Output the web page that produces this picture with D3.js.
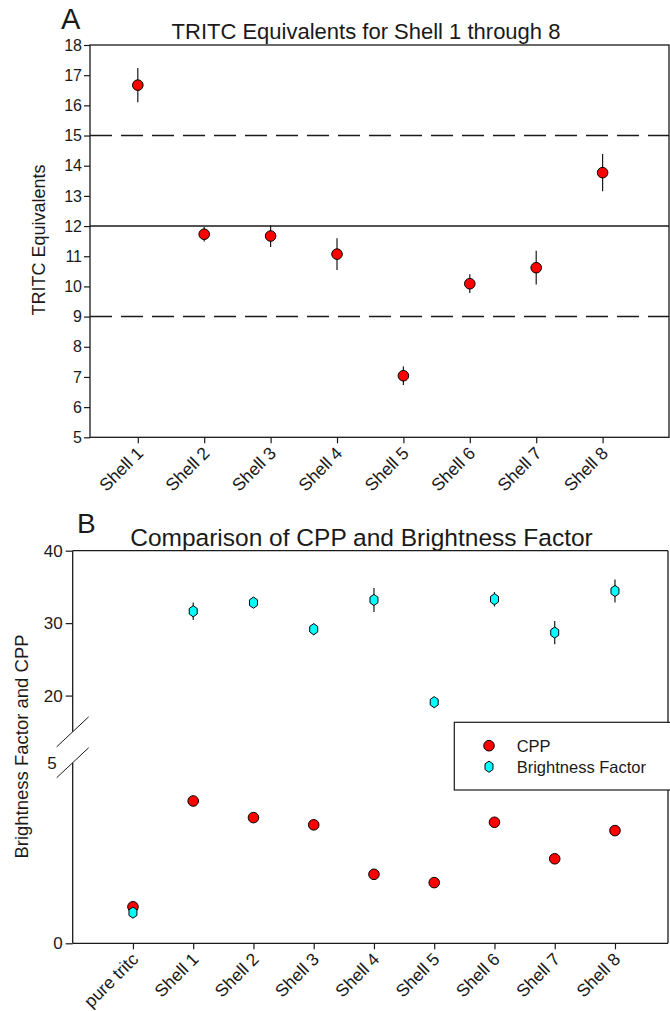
<!DOCTYPE html>
<html>
<head>
<meta charset="utf-8">
<script src="https://cdn.jsdelivr.net/npm/d3@7"></script>
<style>
  html, body { margin: 0; padding: 0; background: #fff; }
  svg { display: block; font-family: "Liberation Sans", Arial, sans-serif; }
</style>
</head>
<body>
<svg id="chart" width="670" height="1011"></svg>
<script>
// ---------------- DATA ----------------
const categoriesA = ["Shell 1", "Shell 2", "Shell 3", "Shell 4", "Shell 5", "Shell 6", "Shell 7", "Shell 8"];
const tritcMean   = [16.67, 11.73, 11.67, 11.07, 7.04, 10.09, 10.62, 13.77];
const tritcErr    = [0.57, 0.24, 0.36, 0.53, 0.31, 0.31, 0.56, 0.62];
const refLevels   = [15, 12, 9];
const yTicksA     = [5, 6, 7, 8, 9, 10, 11, 12, 13, 14, 15, 16, 17, 18];

const categoriesB   = ["pure tritc", "Shell 1", "Shell 2", "Shell 3", "Shell 4", "Shell 5", "Shell 6", "Shell 7", "Shell 8"];
const cppValues     = [1.01, 3.94, 3.48, 3.28, 1.91, 1.68, 3.35, 2.34, 3.12];
const brightValues  = [0.85, 31.64, 32.83, 29.16, 33.2, 19.09, 33.3, 28.7, 34.44];
const brightErr     = [0, 1.2, 0.6, 0.75, 1.65, 0.6, 1.0, 1.6, 1.6];
const yTicksBUpper  = [20, 30, 40];
const yTicksBLower  = [0, 5];
const legendLabels  = ["CPP", "Brightness Factor"];

// ---------------- HELPERS ----------------
const svg = d3.select("#chart");
const INK = "#1a1a1a";
const RED = "#ff0000";
const CYAN = "#00ffff";

function hexPath(cx, cy, rx, ry) {
  const p = d3.path();
  for (let i = 0; i < 6; i++) {
    const a = Math.PI / 2 + i * Math.PI / 3;
    const x = cx + rx * Math.cos(a), y = cy - ry * Math.sin(a);
    if (i === 0) p.moveTo(x, y); else p.lineTo(x, y);
  }
  p.closePath();
  return p.toString();
}

function styleAxis(g, fontSize) {
  g.selectAll(".domain").remove();
  g.selectAll(".tick line").attr("stroke", INK).attr("stroke-width", 1.2);
  g.selectAll(".tick text").attr("fill", INK).attr("font-size", fontSize)
    .attr("font-family", "'Liberation Sans', Arial, sans-serif");
}

// ================= PANEL A =================
const A = { left: 90, right: 669, top: 45, bottom: 437.3 };
const xA = d3.scaleLinear().domain([0.28, 9]).range([A.left, A.right]);
const yA = d3.scaleLinear().domain([5, 18]).range([A.bottom, A.top]);
const gA = svg.append("g");

// frame
gA.append("rect").attr("x", A.left).attr("y", A.top)
  .attr("width", A.right - A.left).attr("height", A.bottom - A.top)
  .attr("fill", "none").attr("stroke", INK).attr("stroke-width", 1.3);

// reference lines
gA.selectAll("line.ref").data(refLevels).join("line")
  .attr("class", "ref")
  .attr("x1", A.left).attr("x2", A.right)
  .attr("y1", d => yA(d)).attr("y2", d => yA(d))
  .attr("stroke", INK).attr("stroke-width", 1.5)
  .attr("stroke-dasharray", d => d === 12 ? null : "22,9");

// y axis
const yAxisA = gA.append("g").attr("transform", `translate(${A.left},0)`)
  .call(d3.axisLeft(yA).tickValues(yTicksA).tickSize(6).tickPadding(2).tickFormat(d3.format("d")));
styleAxis(yAxisA, 16);

// x axis
const xAxisA = gA.append("g").attr("transform", `translate(0,${A.bottom})`)
  .call(d3.axisBottom(xA).tickValues(d3.range(1, categoriesA.length + 1)).tickSize(6)
    .tickFormat((d) => categoriesA[d - 1]));
styleAxis(xAxisA, 17.5);
xAxisA.selectAll(".tick text")
  .attr("text-anchor", "end")
  .attr("dy", null).attr("y", 0)
  .attr("transform", "translate(6,17) rotate(-45)");

// error bars
gA.selectAll("line.err").data(tritcMean).join("line")
  .attr("class", "err")
  .attr("x1", (d, i) => xA(i + 1)).attr("x2", (d, i) => xA(i + 1))
  .attr("y1", (d, i) => yA(d + tritcErr[i])).attr("y2", (d, i) => yA(d - tritcErr[i]))
  .attr("stroke", INK).attr("stroke-width", 1.2);

// points
gA.selectAll("circle.pt").data(tritcMean).join("circle")
  .attr("class", "pt")
  .attr("cx", (d, i) => xA(i + 1)).attr("cy", d => yA(d))
  .attr("r", 5.3).attr("fill", RED).attr("stroke", "#000").attr("stroke-width", 1);

// titles
svg.append("text").attr("x", 61).attr("y", 29).attr("font-size", 29).attr("fill", INK).text("A");
svg.append("text").attr("x", 366).attr("y", 39).attr("text-anchor", "middle")
  .attr("font-size", 22).attr("fill", INK).text("TRITC Equivalents for Shell 1 through 8");
svg.append("text").attr("transform", "translate(45,240) rotate(-90)").attr("text-anchor", "middle")
  .attr("font-size", 18).attr("fill", INK).text("TRITC Equivalents");

// ================= PANEL B =================
const B = { left: 72.7, right: 668, top: 550.7, upperBottom: 731.8, lowerTop: 762.7, bottom: 943.3 };
const xB = d3.scaleLinear().domain([-1, 8.88]).range([B.left, B.right]);
const yBU = d3.scaleLinear().domain([15, 40]).range([B.upperBottom, B.top]);
const yBL = d3.scaleLinear().domain([0, 5]).range([B.bottom, B.lowerTop]);
const yB = v => (v <= 5 ? yBL(v) : yBU(v));
const gB = svg.append("g");

// frame pieces (broken vertical axes)
const frame = [
  [B.left, B.top, B.right, B.top],
  [B.left, B.bottom, B.right, B.bottom],
  [B.left, B.top, B.left, B.upperBottom],
  [B.left, B.lowerTop, B.left, B.bottom],
  [B.right, B.top, B.right, B.upperBottom],
  [B.right, B.lowerTop, B.right, B.bottom]
];
gB.selectAll("line.frame").data(frame).join("line").attr("class", "frame")
  .attr("x1", d => d[0]).attr("y1", d => d[1]).attr("x2", d => d[2]).attr("y2", d => d[3])
  .attr("stroke", INK).attr("stroke-width", 1.3);

// break slashes
const slashes = [];
[B.left, B.right].forEach(x => [B.upperBottom, B.lowerTop].forEach(y => slashes.push([x, y])));
gB.selectAll("line.slash").data(slashes).join("line").attr("class", "slash")
  .attr("x1", d => d[0] - 16).attr("y1", d => d[1] + 15)
  .attr("x2", d => d[0] + 16).attr("y2", d => d[1] - 15)
  .attr("stroke", INK).attr("stroke-width", 1);

// y axes
const yAxisBU = gB.append("g").attr("transform", `translate(${B.left},0)`)
  .call(d3.axisLeft(yBU).tickValues(yTicksBUpper).tickSize(7).tickPadding(3).tickFormat(d3.format("d")));
styleAxis(yAxisBU, 17);
const yAxisBL = gB.append("g").attr("transform", `translate(${B.left},0)`)
  .call(d3.axisLeft(yBL).tickValues(yTicksBLower).tickSize(7).tickPadding(3).tickFormat(d3.format("d")));
styleAxis(yAxisBL, 17);
yAxisBL.selectAll(".tick").filter(d => d === 5).select("line").remove();
yAxisBL.selectAll(".tick").filter(d => d === 5).select("text").attr("x", -16);

// x axis
const xAxisB = gB.append("g").attr("transform", `translate(0,${B.bottom})`)
  .call(d3.axisBottom(xB).tickValues(d3.range(0, categoriesB.length)).tickSize(6)
    .tickFormat(d => categoriesB[d]));
styleAxis(xAxisB, 17.5);
xAxisB.selectAll(".tick text")
  .attr("text-anchor", "end")
  .attr("dy", null).attr("y", 0)
  .attr("transform", "translate(6,17) rotate(-45)");

// brightness error bars
gB.selectAll("line.berr").data(brightValues).join("line").attr("class", "berr")
  .attr("x1", (d, i) => xB(i)).attr("x2", (d, i) => xB(i))
  .attr("y1", (d, i) => yB(d + brightErr[i])).attr("y2", (d, i) => yB(d - brightErr[i]))
  .attr("stroke", INK).attr("stroke-width", 1.2);

// CPP points
gB.selectAll("circle.cpp").data(cppValues).join("circle").attr("class", "cpp")
  .attr("cx", (d, i) => xB(i)).attr("cy", d => yB(d))
  .attr("r", 5.3).attr("fill", RED).attr("stroke", "#000").attr("stroke-width", 1);

// Brightness points (hexagons)
gB.selectAll("path.bf").data(brightValues).join("path").attr("class", "bf")
  .attr("d", (d, i) => hexPath(xB(i), yB(d), 4.6, 5.6))
  .attr("fill", CYAN).attr("stroke", "#000").attr("stroke-width", 1);

// legend
const lg = gB.append("g");
lg.append("rect").attr("x", 454.3).attr("y", 722.3).attr("width", 260).attr("height", 67.7)
  .attr("fill", "#fff").attr("stroke", INK).attr("stroke-width", 1.2);
lg.append("circle").attr("cx", 489).attr("cy", 745.7).attr("r", 5.3)
  .attr("fill", RED).attr("stroke", "#000");
lg.append("path").attr("d", hexPath(489, 766.7, 4.6, 5.6))
  .attr("fill", CYAN).attr("stroke", "#000");
lg.selectAll("text").data(legendLabels).join("text")
  .attr("x", 516.7).attr("y", (d, i) => 751.5 + i * 21)
  .attr("font-size", 16.5).attr("fill", INK).text(d => d);

// titles
svg.append("text").attr("x", 77).attr("y", 533).attr("font-size", 28).attr("fill", INK).text("B");
svg.append("text").attr("x", 361.5).attr("y", 546).attr("text-anchor", "middle")
  .attr("font-size", 24.5).attr("fill", INK).text("Comparison of CPP and Brightness Factor");
svg.append("text").attr("transform", "translate(28,746.5) rotate(-90)").attr("text-anchor", "middle")
  .attr("font-size", 18.5).attr("fill", INK).text("Brightness Factor and CPP");
</script>
</body>
</html>
